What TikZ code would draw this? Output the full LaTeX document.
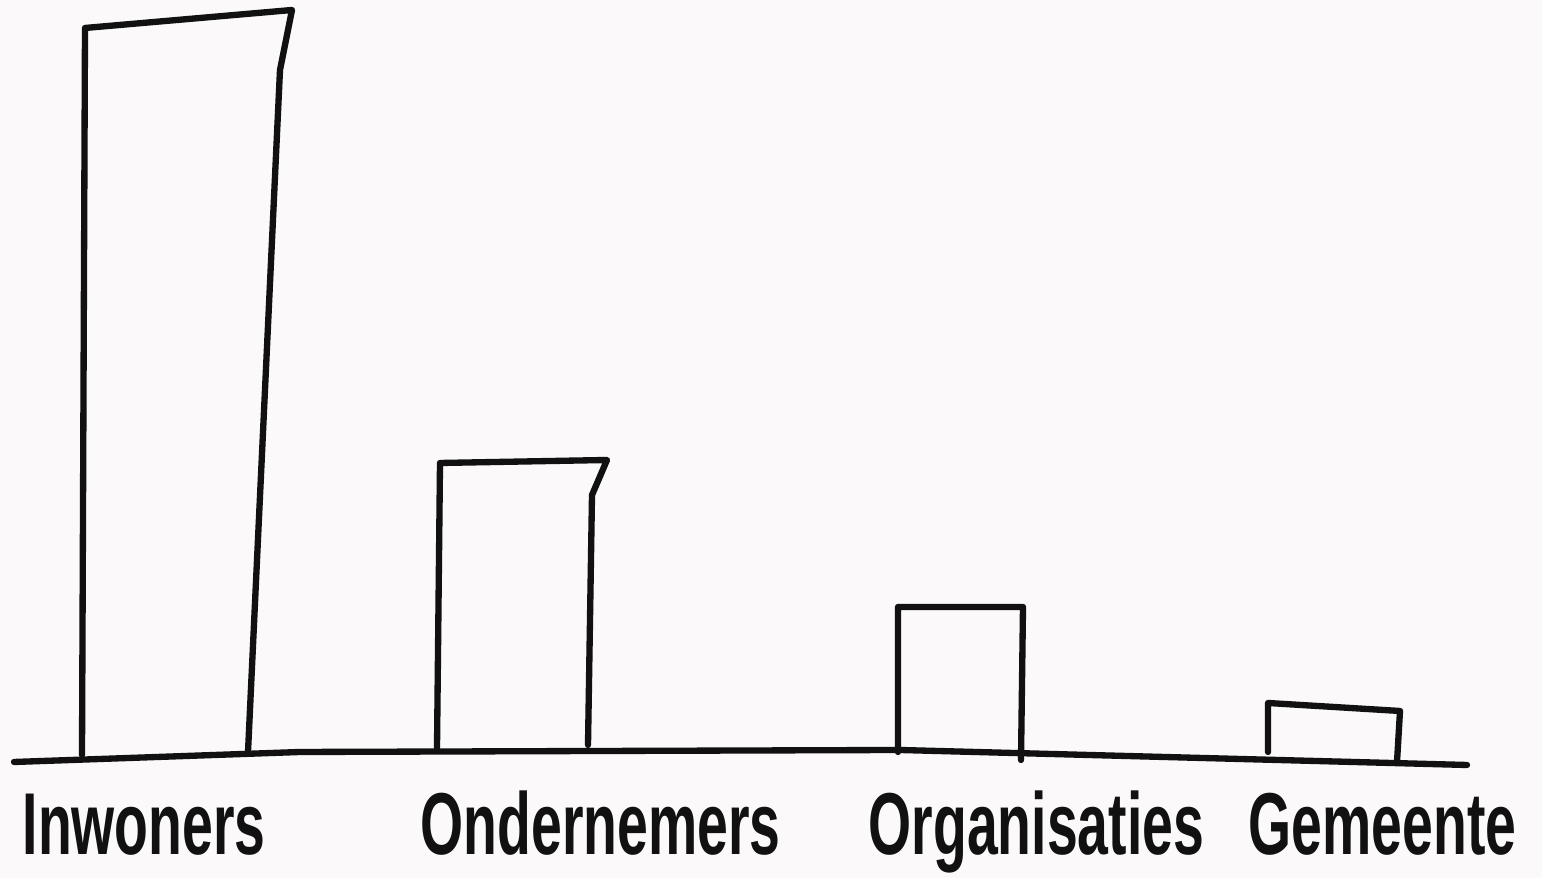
\documentclass[tikz,border=0pt]{standalone}
\usepackage{fontspec}
\setmainfont{Liberation Sans}
\usetikzlibrary{positioning}

\definecolor{paper}{HTML}{FBF9F9}
\definecolor{ink}{HTML}{111111}

\begin{document}
\begin{tikzpicture}[x=0.1mm, y=-0.1mm,
  bar/.style={draw=ink, line width=1.8pt, line join=round, line cap=round},
  lbl/.style={anchor=base west, inner sep=0pt, text=ink, font=\fontsize{25}{28}\selectfont\bfseries}]
\fill[paper] (0,0) rectangle (1542,878);
\useasboundingbox (0,0) rectangle (1542,878);

% baseline
\draw[bar] (14,762) -- (300,752) -- (900,750) -- (1467,765);

% bars
\draw[bar] (82,755) -- (85,28) -- (292,10) -- (280,70) -- (248,752);
\draw[bar] (437,748) -- (440,463) -- (607,460) -- (592,495) -- (588,745);
\draw[bar] (898,752) -- (898,607) -- (1023,607) -- (1021,760);
\draw[bar] (1268,752) -- (1268,703) -- (1400,711) -- (1397,762);

% labels
\node[lbl] (L1) at (22,855) {\scalebox{0.63}[1]{Inwoners}};
\node[lbl] (L2) at (420,855) {\scalebox{0.63}[1]{Ondernemers}};
\node[lbl] (L3) at (868,855) {\scalebox{0.63}[1]{Organisaties}};
\node[lbl] (L4) at (1248,855) {\scalebox{0.63}[1]{Gemeente}};
\end{tikzpicture}
\end{document}
